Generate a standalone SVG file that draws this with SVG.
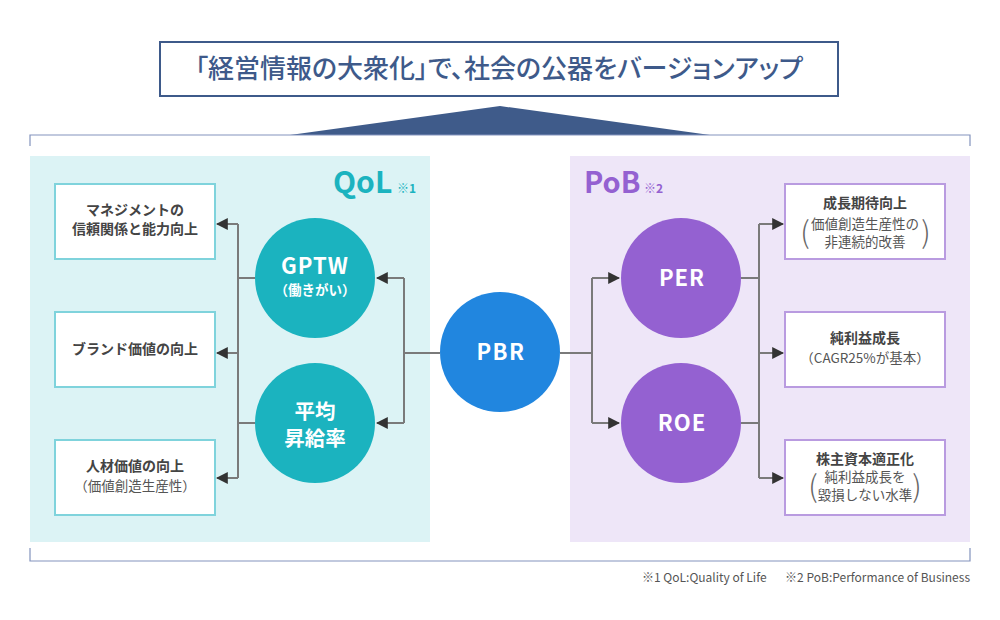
<svg xmlns="http://www.w3.org/2000/svg" width="1000" height="620" viewBox="0 0 1000 620">
<defs>
<style>
text{font-family:"Noto Sans CJK JP","Noto Sans",sans-serif;}
.bt{font-size:14px;font-weight:bold;fill:#444;text-anchor:middle;}
.st{font-size:13.5px;fill:#555;text-anchor:middle;}
.par{font-size:30px;font-weight:300;fill:#666;text-anchor:middle;}
.ct{fill:#fff;font-weight:bold;text-anchor:middle;}
.bq{fill:#fff;stroke:#7fd3dc;stroke-width:2;}
.bp{fill:#fff;stroke:#b99be0;stroke-width:2;}
.ln{fill:none;stroke:#7a7a7a;stroke-width:2;}
.br{fill:none;stroke:#8393bd;stroke-width:1.2;}
.fn{font-size:12px;fill:#555;}
</style>
<marker id="ah" viewBox="0 0 10 10" refX="9" refY="5" markerWidth="12" markerHeight="12" markerUnits="userSpaceOnUse" orient="auto">
<path d="M0,0 L10,5 L0,10 z" fill="#333"/>
</marker>
</defs>
<rect width="1000" height="620" fill="#fff"/>

<g id="title">
<rect x="160" y="42" width="678" height="54" fill="#fff" stroke="#3e5a8a" stroke-width="2"/>
<text x="499" y="78" font-size="26" fill="#3e5a8a" text-anchor="middle" font-weight="500" style="font-feature-settings:'palt'">「経営情報の大衆化」で、社会の公器をバージョンアップ</text>
<polygon points="500,106 290,135 710,135" fill="#3f5b8a"/>
</g>

<g id="brackets">
<path class="br" d="M30,146 V135 H970 V146"/>
<path class="br" d="M30,548 V561 H970 V548"/>
</g>

<g id="panel-qol">
<rect x="30" y="156" width="400" height="386" fill="#dcf3f5"/>
<text x="333" y="193" font-size="30" font-weight="bold" fill="#1bb3bf">QoL</text>
<text x="397" y="193" font-size="12" font-weight="bold" fill="#1bb3bf">※1</text>
</g>
<g id="panel-pob">
<rect x="570" y="156" width="400" height="386" fill="#eee6f8"/>
<text x="584" y="193" font-size="29" font-weight="bold" fill="#9461d1">PoB</text>
<text x="644" y="193" font-size="12" font-weight="bold" fill="#9461d1">※2</text>
</g>

<g id="connectors">
<path class="ln" d="M238,224 V478"/>
<path class="ln" d="M238,224 H217" marker-end="url(#ah)"/>
<path class="ln" d="M238,353 H217" marker-end="url(#ah)"/>
<path class="ln" d="M238,478 H217" marker-end="url(#ah)"/>
<path class="ln" d="M255,278 H238"/>
<path class="ln" d="M255,423 H238"/>
<path class="ln" d="M440,353 H404"/>
<path class="ln" d="M404,278 V423"/>
<path class="ln" d="M404,278 H377" marker-end="url(#ah)"/>
<path class="ln" d="M404,423 H377" marker-end="url(#ah)"/>
<path class="ln" d="M560,353 H592"/>
<path class="ln" d="M592,278 V423"/>
<path class="ln" d="M592,278 H619" marker-end="url(#ah)"/>
<path class="ln" d="M592,423 H619" marker-end="url(#ah)"/>
<path class="ln" d="M741,278 H759"/>
<path class="ln" d="M741,423 H759"/>
<path class="ln" d="M759,224 V478"/>
<path class="ln" d="M759,224 H783" marker-end="url(#ah)"/>
<path class="ln" d="M759,353 H783" marker-end="url(#ah)"/>
<path class="ln" d="M759,478 H783" marker-end="url(#ah)"/>
</g>

<g id="box-mgmt">
<rect class="bq" x="55" y="184" width="160" height="75"/>
<text class="bt" x="135" y="215">マネジメントの</text>
<text class="bt" x="135" y="234">信頼関係と能力向上</text>
</g>
<g id="box-brand">
<rect class="bq" x="55" y="312" width="160" height="75"/>
<text class="bt" x="135" y="354">ブランド価値の向上</text>
</g>
<g id="box-human">
<rect class="bq" x="55" y="440" width="160" height="75"/>
<text class="bt" x="135" y="471">人材価値の向上</text>
<text class="st" x="135" y="491">（価値創造生産性）</text>
</g>

<g id="gptw">
<circle cx="315" cy="278" r="60" fill="#1bb3bf"/>
<text class="ct" x="315" y="274" font-size="22" letter-spacing="1">GPTW</text>
<text class="ct" x="315" y="295" font-size="13.5" font-weight="normal">（働きがい）</text>
</g>
<g id="raise">
<circle cx="315" cy="423" r="60" fill="#1bb3bf"/>
<text class="ct" font-size="20.5"><tspan x="315" y="419">平均</tspan><tspan x="315" y="446">昇給率</tspan></text>
</g>
<g id="pbr">
<circle cx="500" cy="352" r="60" fill="#2186df"/>
<text class="ct" x="501" y="360" font-size="22" letter-spacing="1.5">PBR</text>
</g>
<g id="per">
<circle cx="681" cy="278" r="60" fill="#9461d1"/>
<text class="ct" x="682" y="286" font-size="22" letter-spacing="1">PER</text>
</g>
<g id="roe">
<circle cx="681" cy="423" r="60" fill="#9461d1"/>
<text class="ct" x="682" y="431" font-size="22" letter-spacing="1">ROE</text>
</g>

<g id="box-growth">
<rect class="bp" x="785" y="184" width="160" height="75"/>
<text class="bt" x="865" y="208">成長期待向上</text>
<text class="st" x="865" y="229">価値創造生産性の</text>
<text class="st" x="865" y="247">非連続的改善</text>
<text class="par" x="805" y="243">(</text>
<text class="par" x="926" y="243">)</text>
</g>
<g id="box-profit">
<rect class="bp" x="785" y="312" width="160" height="75"/>
<text class="bt" x="865" y="343">純利益成長</text>
<text class="st" x="865" y="363" font-size="14">（CAGR25%が基本）</text>
</g>
<g id="box-capital">
<rect class="bp" x="785" y="440" width="160" height="75"/>
<text class="bt" x="865" y="464">株主資本適正化</text>
<text class="st" x="865" y="482">純利益成長を</text>
<text class="st" x="865" y="500">毀損しない水準</text>
<text class="par" x="813" y="497">(</text>
<text class="par" x="917" y="497">)</text>
</g>

<g id="footnote">
<text class="fn" x="642" y="582">※1 QoL:Quality of Life</text>
<text class="fn" x="970" y="582" text-anchor="end">※2 PoB:Performance of Business</text>
</g>
</svg>
